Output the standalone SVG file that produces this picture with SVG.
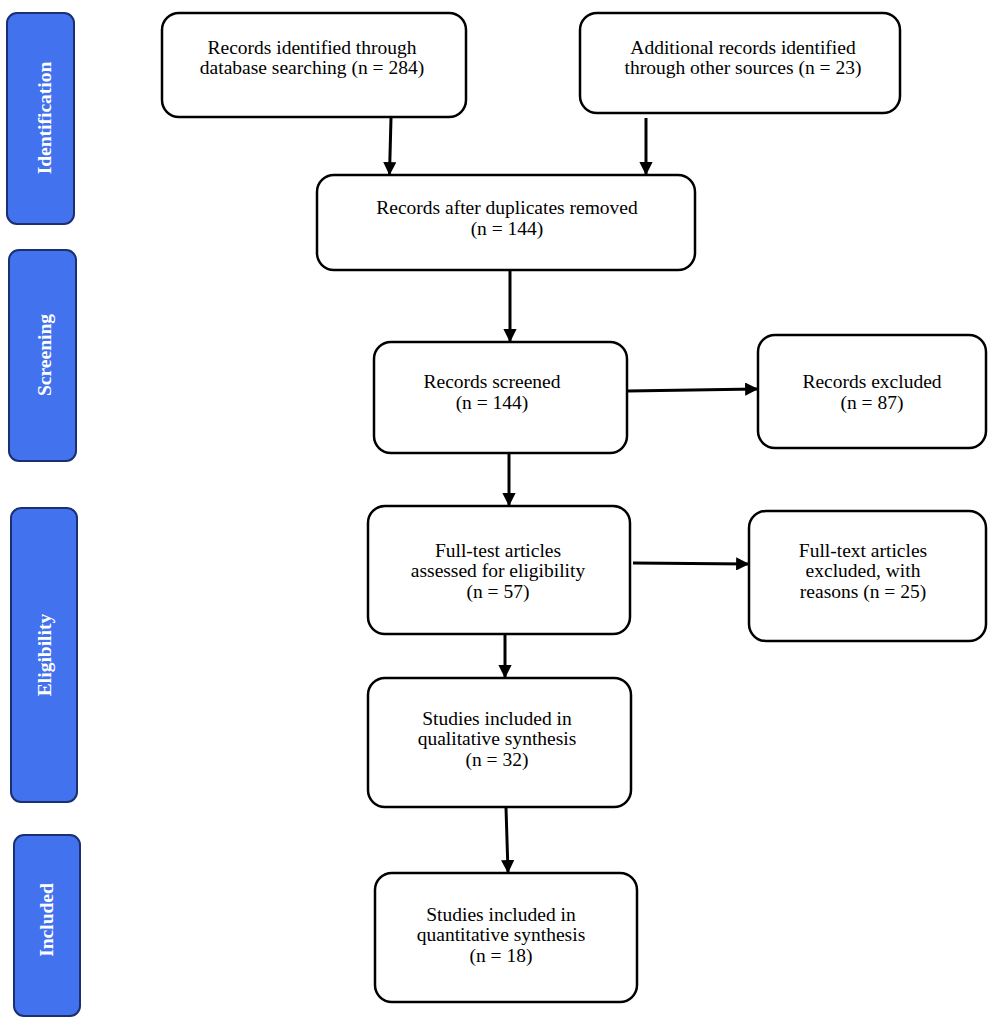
<svg xmlns="http://www.w3.org/2000/svg" width="1000" height="1030" viewBox="0 0 1000 1030">
<defs>
<style>
.side{fill:#4372ee;stroke:#1b2f73;stroke-width:2}
.sl{fill:#fff;font-family:"Liberation Serif",serif;font-weight:bold;font-size:19.5px;text-anchor:middle}
.box{fill:#fff;stroke:#000;stroke-width:2.5}
.t{fill:#000;font-family:"Liberation Serif",serif;font-size:19.5px;text-anchor:middle}
.c{stroke:#000;stroke-width:3;fill:none;marker-end:url(#ah)}
</style>
<marker id="ah" viewBox="0 0 10 10" refX="9" refY="5" markerWidth="4.8" markerHeight="4.4" orient="auto" markerUnits="strokeWidth">
<path d="M0,0 L10,5 L0,10 z" fill="#000"/>
</marker>
</defs>
<rect width="1000" height="1030" fill="#fff"/>
<g id="stage-identification"><rect class="side" x="7" y="13" width="67" height="211" rx="10"/><text class="sl" transform="translate(51,118) rotate(-90)">Identification</text></g>
<g id="stage-screening"><rect class="side" x="9" y="250" width="67" height="211" rx="10"/><text class="sl" transform="translate(51,355) rotate(-90)">Screening</text></g>
<g id="stage-eligibility"><rect class="side" x="11" y="508" width="66" height="294" rx="10"/><text class="sl" transform="translate(51,655) rotate(-90)">Eligibility</text></g>
<g id="stage-included"><rect class="side" x="14" y="835" width="66" height="181" rx="10"/><text class="sl" transform="translate(53,920) rotate(-90)">Included</text></g>

<g id="connectors">
<path class="c" d="M391,118 L389.5,174"/>
<path class="c" d="M646,118 L646,174"/>
<path class="c" d="M510,271 L510,341"/>
<path class="c" d="M628,391 L757,389"/>
<path class="c" d="M509,454 L509,505"/>
<path class="c" d="M633,563 L748,564"/>
<path class="c" d="M505,635 L505,677"/>
<path class="c" d="M506,808 L508,872"/>
</g>

<g id="n1"><rect class="box" x="162" y="13" width="304" height="104" rx="17"/><text class="t" x="312" y="54">Records identified through</text><text class="t" x="312" y="74">database searching (n = 284)</text></g>
<g id="n2"><rect class="box" x="580" y="13" width="320" height="100" rx="17"/><text class="t" x="743" y="54">Additional records identified</text><text class="t" x="743" y="74">through other sources (n = 23)</text></g>
<g id="n3"><rect class="box" x="317" y="175" width="378" height="95" rx="17"/><text class="t" x="507" y="214">Records after duplicates removed</text><text class="t" x="507" y="235">(n = 144)</text></g>
<g id="n4"><rect class="box" x="374" y="342" width="253" height="111" rx="17"/><text class="t" x="492" y="388">Records screened</text><text class="t" x="492" y="409">(n = 144)</text></g>
<g id="n5"><rect class="box" x="758" y="335" width="228" height="113" rx="17"/><text class="t" x="872" y="388">Records excluded</text><text class="t" x="872" y="409">(n = 87)</text></g>
<g id="n6"><rect class="box" x="368" y="506" width="262" height="128" rx="17"/><text class="t" x="498" y="557">Full-test articles</text><text class="t" x="498" y="577">assessed for eligibility</text><text class="t" x="498" y="598">(n = 57)</text></g>
<g id="n7"><rect class="box" x="749" y="511" width="237" height="130" rx="17"/><text class="t" x="863" y="557">Full-text articles</text><text class="t" x="863" y="577">excluded, with</text><text class="t" x="863" y="598">reasons (n = 25)</text></g>
<g id="n8"><rect class="box" x="368" y="678" width="263" height="129" rx="17"/><text class="t" x="497" y="725">Studies included in</text><text class="t" x="497" y="745">qualitative synthesis</text><text class="t" x="497" y="766">(n = 32)</text></g>
<g id="n9"><rect class="box" x="375" y="873" width="262" height="129" rx="17"/><text class="t" x="501" y="921">Studies included in</text><text class="t" x="501" y="941">quantitative synthesis</text><text class="t" x="501" y="962">(n = 18)</text></g>
</svg>
